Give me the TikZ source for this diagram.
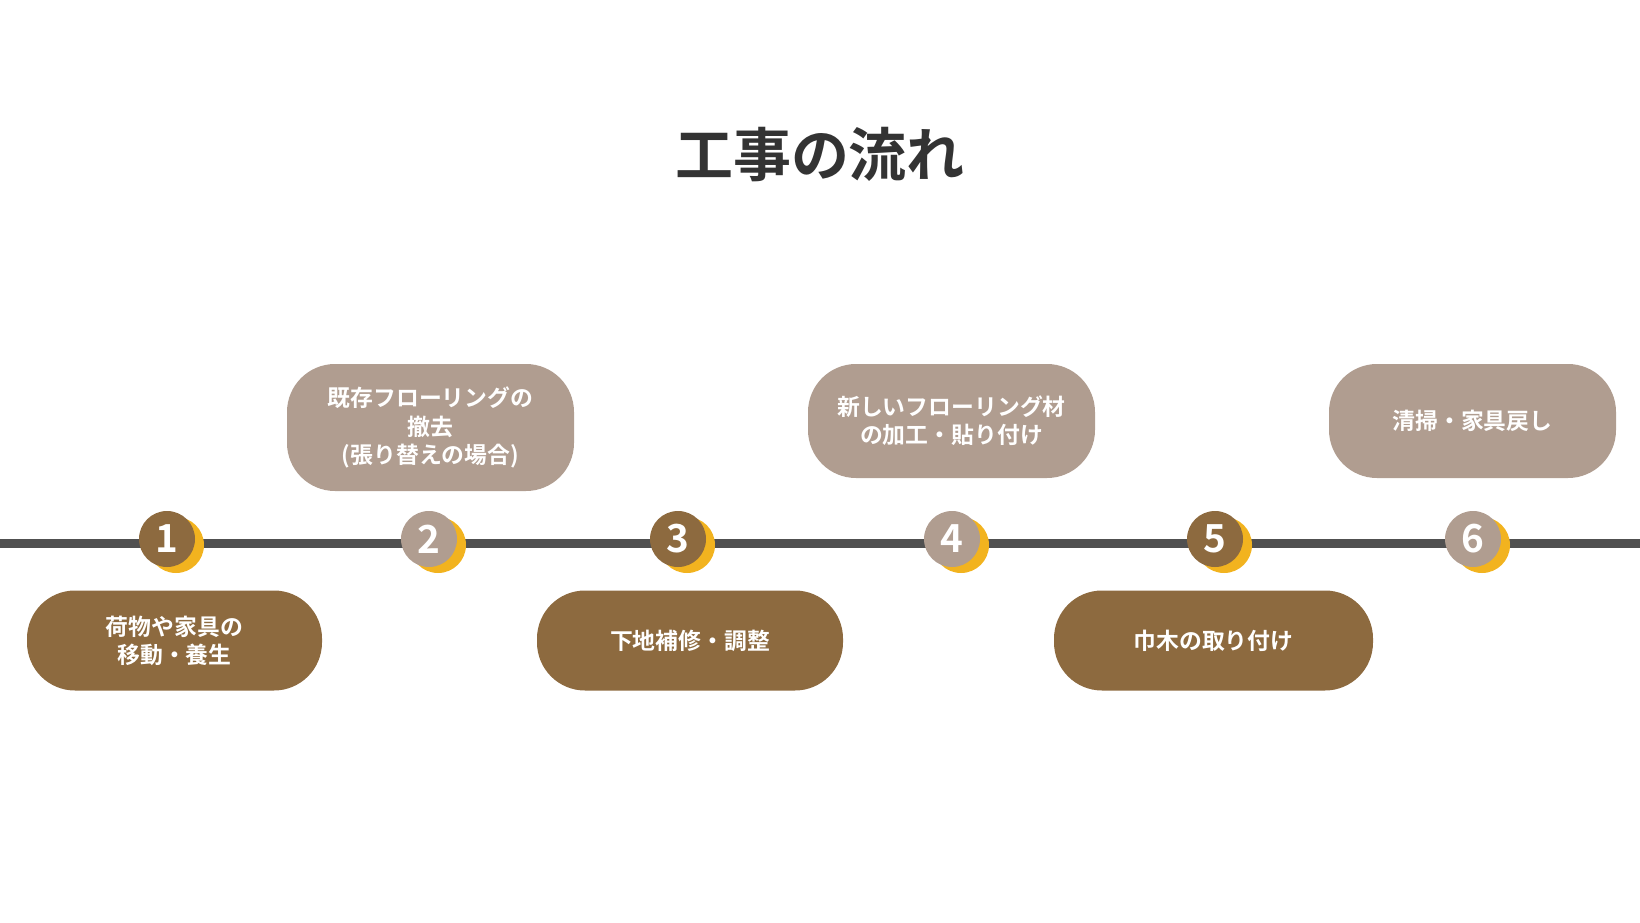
\documentclass[tikz,border=0pt]{standalone}
\usepackage{fontspec}
\setmainfont{Noto Sans CJK JP}[BoldFont={* Bold}]
\usetikzlibrary{positioning}
\definecolor{brownbox}{HTML}{8D6A3F}
\definecolor{taupebox}{HTML}{B09D90}
\definecolor{accent}{HTML}{F2B31F}
\definecolor{lineclr}{HTML}{505050}
\definecolor{titleclr}{HTML}{333333}
\tikzset{
  stepbox/.style={rounded corners=48*0.02cm, text=white, font=\bfseries\fontsize{13}{16}\selectfont, align=center, inner sep=0pt},
  numdot/.style={circle, minimum size=56*0.02cm, inner sep=0pt, text=white, font=\bfseries\fontsize{22}{22}\selectfont}
}
\begin{document}
\begin{tikzpicture}[x=0.02cm, y=-0.02cm]
  \useasboundingbox (0,0) rectangle (1640,923);
  % Title
  \node[font=\bfseries\fontsize{33}{36}\selectfont, text=titleclr] (title) at (820,155) {工事の流れ};
  % Timeline
  \coordinate (lineL) at (0,543);
  \coordinate (lineR) at (1640,543);
  \draw[lineclr, line width=9*0.02cm] (lineL) -- (lineR);
  % Steps
  \foreach \n/\x/\clr in {1/167/brownbox, 2/429/taupebox, 3/678/brownbox, 4/952/taupebox, 5/1215/brownbox, 6/1473/taupebox} {
    \fill[accent] (\x+9,545) circle (28*0.02cm);
    \node[numdot, fill=\clr] (num\n) at (\x,539) {\n};
  }
  % Boxes above
  \node[stepbox, fill=taupebox, minimum width=287*0.02cm, minimum height=127*0.02cm] (box2) at (430.5,427.5) {既存フローリングの\\撤去\\(張り替えの場合)};
  \node[stepbox, fill=taupebox, minimum width=287*0.02cm, minimum height=114*0.02cm] (box4) at (951.5,421) {新しいフローリング材\\の加工・貼り付け};
  \node[stepbox, fill=taupebox, minimum width=287*0.02cm, minimum height=114*0.02cm] (box6) at (1472.5,421) {清掃・家具戻し};
  % Boxes below
  \node[stepbox, fill=brownbox, minimum width=295*0.02cm, minimum height=100*0.02cm] (box1) at (174.5,640.5) {荷物や家具の\\移動・養生};
  \node[stepbox, fill=brownbox, minimum width=306*0.02cm, minimum height=100*0.02cm] (box3) at (690,640.5) {下地補修・調整};
  \node[stepbox, fill=brownbox, minimum width=319*0.02cm, minimum height=100*0.02cm] (box5) at (1213.5,640.5) {巾木の取り付け};
\end{tikzpicture}
\end{document}
